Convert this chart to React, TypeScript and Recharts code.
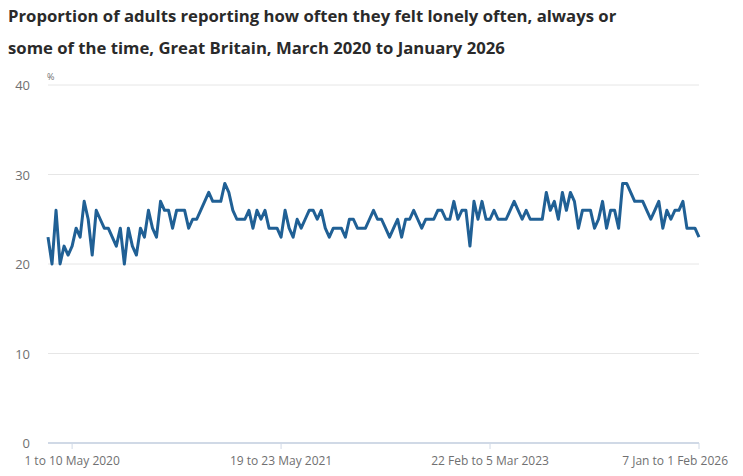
import { LineChart, Line, XAxis, YAxis, CartesianGrid } from "recharts";

// Proportion of adults (%) who felt lonely often, always or some of the time
const lonelyValues = [
  23, 20, 26, 20, 22, 21, 22, 24, 23, 27, 25, 21, 26, 25, 24, 24, 23, 22, 24, 20,
  24, 22, 21, 24, 23, 26, 24, 23, 27, 26, 26, 24, 26, 26, 26, 24, 25, 25, 26, 27,
  28, 27, 27, 27, 29, 28, 26, 25, 25, 25, 26, 24, 26, 25, 26, 24, 24, 24, 23, 26,
  24, 23, 25, 24, 25, 26, 26, 25, 26, 24, 23, 24, 24, 24, 23, 25, 25, 24, 24, 24,
  25, 26, 25, 25, 24, 23, 24, 25, 23, 25, 25, 26, 25, 24, 25, 25, 25, 26, 26, 25,
  25, 27, 25, 26, 26, 22, 27, 25, 27, 25, 25, 26, 25, 25, 25, 26, 27, 26, 25, 26,
  25, 25, 25, 25, 28, 26, 27, 25, 28, 26, 28, 27, 24, 26, 26, 26, 24, 25, 27, 24,
  26, 26, 24, 29, 29, 28, 27, 27, 27, 26, 25, 26, 27, 24, 26, 25, 26, 26, 27, 24,
  24, 24, 23,
];

const tickIndexes = [6, 58, 110, 162];
const tickLabels = [
  "1 to 10 May 2020",
  "19 to 23 May 2021",
  "22 Feb to 5 Mar 2023",
  "7 Jan to 1 Feb 2026",
];

const yTicks = [0, 10, 20, 30, 40];

const data = lonelyValues.map((v, i) => ({ i, value: v }));

const XTick = (props: any) => {
  const { x, payload } = props;
  const idx = tickIndexes.indexOf(payload.value);
  const last = idx === tickIndexes.length - 1;
  return (
    <text
      x={last ? x + 29 : x}
      y={465}
      textAnchor={last ? "end" : "middle"}
      fill="#707071"
      fontSize={12}
      fontFamily="'Open Sans', sans-serif"
    >
      {tickLabels[idx]}
    </text>
  );
};

const YTick = (props: any) => {
  const { y, payload } = props;
  return (
    <g>
      <text
        x={30}
        y={y}
        dy={5}
        textAnchor="end"
        fill="#707071"
        fontSize={13}
        fontFamily="'Open Sans', sans-serif"
      >
        {payload.value}
      </text>
      {payload.value === 40 && (
        <text x={47} y={y - 5} fill="#707071" fontSize={9} fontFamily="'Open Sans', sans-serif">
          %
        </text>
      )}
    </g>
  );
};

export default function App() {
  return (
    <div style={{ position: "relative", width: 743, height: 476, margin: -8, background: "#fff" }}>
      <div
        style={{
          position: "absolute",
          top: 0,
          left: 8,
          fontFamily: "'Open Sans', sans-serif",
          fontWeight: 700,
          fontSize: 16.7,
          lineHeight: "32px",
          color: "#2a2a2a",
        }}
      >
        Proportion of adults reporting how often they felt lonely often, always or
        <br />
        some of the time, Great Britain, March 2020 to January 2026
      </div>
      <div style={{ position: "absolute", top: 0, left: 0 }}>
        <LineChart width={743} height={476} data={data} margin={{ top: 85, right: 44, bottom: 3, left: 0 }}>
          <CartesianGrid vertical={false} stroke="#e6e6e6" />
          <XAxis
            dataKey="i"
            type="number"
            domain={[0, lonelyValues.length - 1]}
            ticks={tickIndexes}
            interval={0}
            height={30}
            axisLine={{ stroke: "#d0d9e6", strokeWidth: 2 }}
            tickLine={{ stroke: "#d0d9e6", strokeWidth: 1 }}
            tickSize={6}
            tick={<XTick />}
          />
          <YAxis
            domain={[0, 40]}
            ticks={yTicks}
            width={48}
            axisLine={false}
            tickLine={false}
            tick={<YTick />}
          />
          <Line
            dataKey="value"
            stroke="#206095"
            strokeWidth={3}
            dot={false}
            strokeLinejoin="round"
            isAnimationActive={false}
          />
        </LineChart>
      </div>
    </div>
  );
}
